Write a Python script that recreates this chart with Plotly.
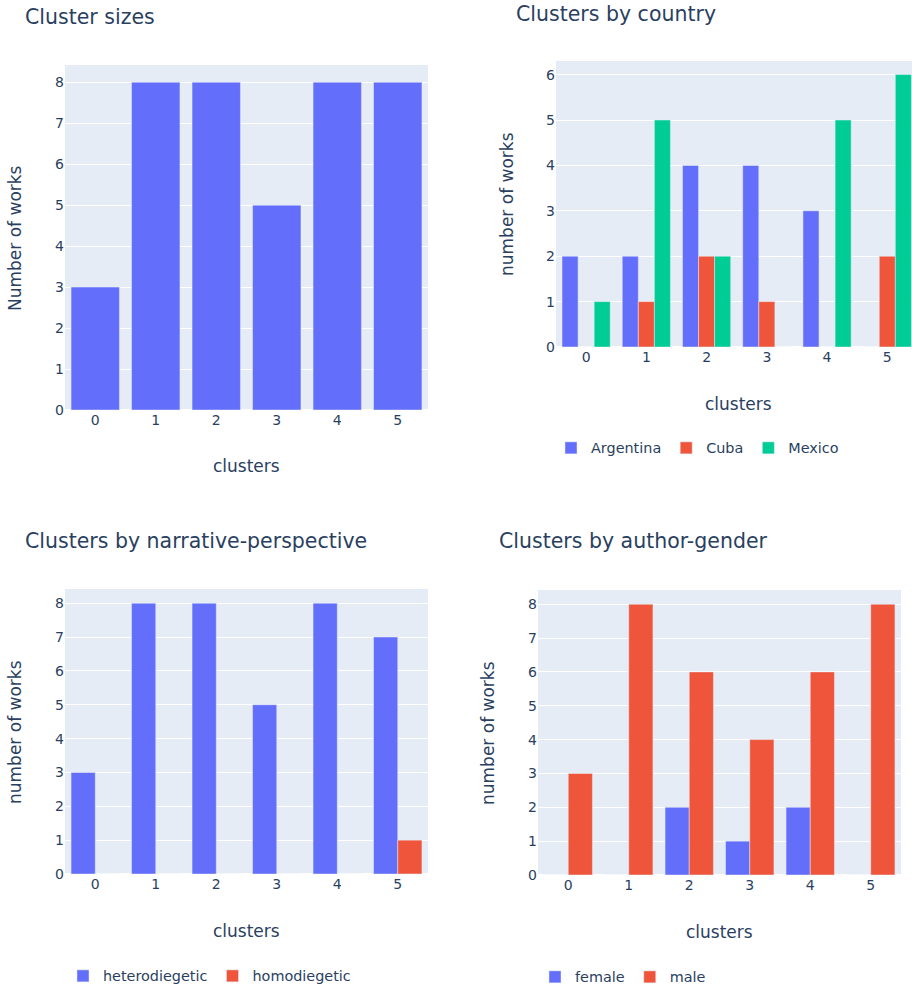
import plotly.graph_objects as go

clusters = [0, 1, 2, 3, 4, 5]

cluster_sizes = [3, 8, 8, 5, 8, 8]

country_names = ["Argentina", "Cuba", "Mexico"]
country_argentina = [2, 2, 4, 4, 3, 0]
country_cuba = [0, 1, 2, 1, 0, 2]
country_mexico = [1, 5, 2, 0, 5, 6]

narrative_names = ["heterodiegetic", "homodiegetic"]
narrative_hetero = [3, 8, 8, 5, 8, 7]
narrative_homo = [0, 0, 0, 0, 0, 1]

gender_names = ["female", "male"]
gender_female = [0, 0, 2, 1, 2, 0]
gender_male = [3, 8, 6, 4, 6, 8]

BLUE = "#636efa"
RED = "#EF553B"
GREEN = "#00cc96"

W, H = 912, 986
FONT = "DejaVu Sans"
TXT = "#2a3f5f"


def px(x):
    return x / W


def py(y):
    return 1 - y / H


fig = go.Figure()

# Panel 1
fig.add_trace(go.Bar(x=clusters, y=cluster_sizes, marker_color=BLUE,
                     showlegend=False, xaxis="x", yaxis="y"))
# Panel 2
for name, vals, col in zip(country_names,
                           [country_argentina, country_cuba, country_mexico],
                           [BLUE, RED, GREEN]):
    fig.add_trace(go.Bar(x=clusters, y=vals, name=name, marker_color=col,
                         xaxis="x2", yaxis="y2", legend="legend", offsetgroup=name + "c"))
# Panel 3
for name, vals, col in zip(narrative_names, [narrative_hetero, narrative_homo], [BLUE, RED]):
    fig.add_trace(go.Bar(x=clusters, y=vals, name=name, marker_color=col,
                         xaxis="x3", yaxis="y3", legend="legend2", offsetgroup=name))
# Panel 4
for name, vals, col in zip(gender_names, [gender_female, gender_male], [BLUE, RED]):
    fig.add_trace(go.Bar(x=clusters, y=vals, name=name, marker_color=col,
                         xaxis="x4", yaxis="y4", legend="legend3", offsetgroup=name))

tickfont = dict(family=FONT, size=14, color=TXT)
common_x = dict(tickmode="linear", dtick=1, tick0=0, tickfont=tickfont,
                gridcolor="white", showgrid=False, zeroline=False)
common_y = dict(tickmode="linear", dtick=1, tick0=0, tickfont=tickfont,
                gridcolor="white", zerolinecolor="white", zerolinewidth=2)

legfont = dict(family=FONT, size=14.4, color=TXT)

fig.update_layout(
    width=W, height=H,
    margin=dict(l=0, r=0, t=0, b=0, autoexpand=False),
    paper_bgcolor="white",
    plot_bgcolor="#E5ECF6",
    barmode="group",
    bargap=0.2,
    font=dict(family=FONT, color=TXT),
    xaxis=dict(domain=[px(65), px(428)], anchor="y", range=[-0.5, 5.5], **common_x),
    yaxis=dict(domain=[py(410), py(65)], anchor="x", range=[0, 8.42], **common_y),
    xaxis2=dict(domain=[px(556), 1.0], anchor="y2", range=[-0.5, 5.41], **common_x),
    yaxis2=dict(domain=[py(347), py(61)], anchor="x2", range=[0, 6.3], **common_y),
    xaxis3=dict(domain=[px(65), px(428)], anchor="y3", range=[-0.5, 5.5], **common_x),
    yaxis3=dict(domain=[py(874), py(589)], anchor="x3", range=[0, 8.42], **common_y),
    xaxis4=dict(domain=[px(538), px(901)], anchor="y4", range=[-0.5, 5.5], **common_x),
    yaxis4=dict(domain=[py(875), py(590)], anchor="x4", range=[0, 8.42], **common_y),
    legend=dict(orientation="h", x=px(551), xanchor="left", y=py(448), yanchor="middle",
                font=legfont, bgcolor="rgba(0,0,0,0)"),
    legend2=dict(orientation="h", x=px(63), xanchor="left", y=py(976), yanchor="middle",
                 font=legfont, bgcolor="rgba(0,0,0,0)"),
    legend3=dict(orientation="h", x=px(535), xanchor="left", y=py(977), yanchor="middle",
                 font=legfont, bgcolor="rgba(0,0,0,0)"),
)

titles = [
    ("Cluster sizes", 23, 17),
    ("Clusters by country", 514, 14),
    ("Clusters by narrative-perspective", 23, 541),
    ("Clusters by author-gender", 497, 541),
]
for text, x, y in titles:
    fig.add_annotation(text=text, x=px(x), y=py(y), xref="paper", yref="paper",
                       xanchor="left", yanchor="middle", showarrow=False,
                       font=dict(family=FONT, size=20.5, color=TXT))

xtitles = [(246, 466), (738, 404), (246, 931), (719, 932)]
for x, y in xtitles:
    fig.add_annotation(text="clusters", x=px(x), y=py(y), xref="paper", yref="paper",
                       xanchor="center", yanchor="middle", showarrow=False,
                       font=dict(family=FONT, size=17, color=TXT))

ytitles = [("Number of works", 15, 238), ("number of works", 507, 204),
           ("number of works", 15, 732), ("number of works", 488, 733)]
for text, x, y in ytitles:
    fig.add_annotation(text=text, x=px(x), y=py(y), xref="paper", yref="paper",
                       xanchor="center", yanchor="middle", showarrow=False, textangle=-90,
                       font=dict(family=FONT, size=17, color=TXT))

fig.write_html("out.html",
               config={"displayModeBar": False},
               post_script="document.body.style.margin='0';document.body.style.overflow='hidden';")
